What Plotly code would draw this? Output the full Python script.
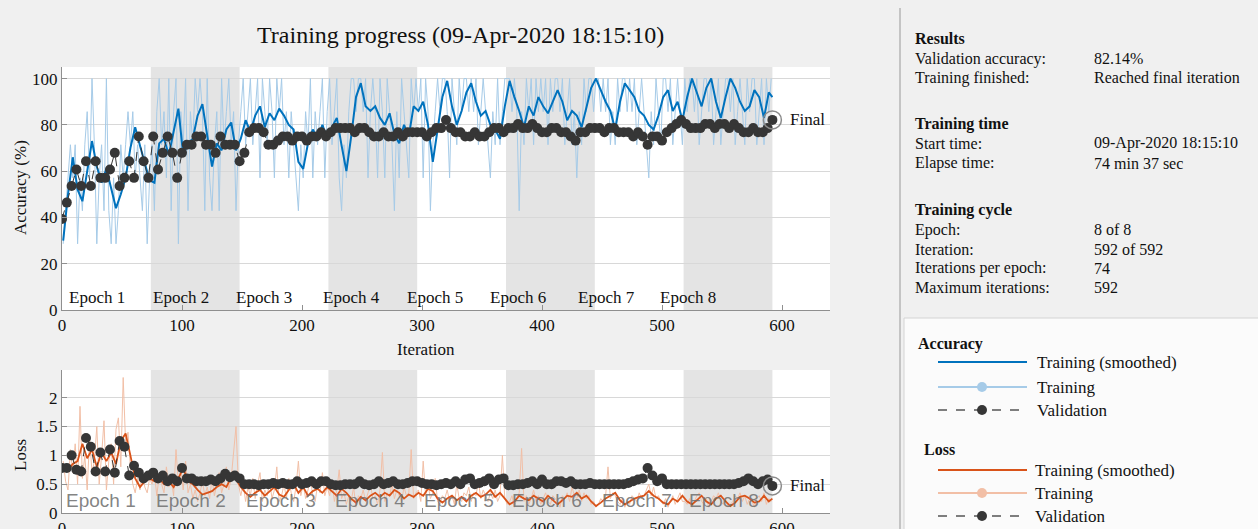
import plotly.graph_objects as go

# ---------------- data ----------------
ITERS_PER_EPOCH = 74
N_EPOCHS = 8
MAX_ITER = 592

# smoothed training accuracy, sampled every 4 iterations (1,5,...,589) + 592
ACC_SMOOTH = [
    30, 50, 66, 52, 47, 60, 73, 62, 55, 61, 52, 44, 50, 57, 70, 79, 71, 63, 56,
    55, 72, 74, 67, 77, 87, 67, 72, 74, 84, 89, 76, 62, 72, 69, 78, 81, 69,
    74, 82, 77, 84, 88, 79, 85, 82, 87, 84, 80, 78, 64, 61, 72, 78, 74, 80, 74,
    79, 83, 71, 60, 75, 92, 98, 88, 86, 88, 83, 80, 85, 76, 72, 80, 75, 88,
    86, 90, 80, 64, 78, 92, 99, 88, 80, 86, 94, 98, 90, 84, 86, 80, 78, 74, 88,
    99, 92, 86, 79, 88, 84, 92, 88, 85, 90, 95, 90, 82, 86, 84, 79, 88, 96,
    100, 95, 90, 86, 78, 90, 98, 95, 92, 86, 84, 80, 78, 84, 92, 95, 86, 90, 82,
    92, 100, 94, 88, 96, 100, 90, 83, 92, 100, 96, 90, 86, 88, 95, 92, 83, 94, 92,
]

# raw training accuracy, every 2 iterations (1,3,...,591)
ACC_RAW = [
    28.6, 42.9, 57.1, 71.4, 57.1, 71.4, 28.6, 57.1, 42.9, 71.4,
    85.7, 57.1, 100, 71.4, 28.6, 57.1, 71.4, 42.9, 100, 42.9,
    28.6, 57.1, 28.6, 42.9, 71.4, 57.1, 71.4, 85.7, 71.4, 85.7,
    57.1, 71.4, 57.1, 42.9, 71.4, 28.6, 57.1,
    71.4, 42.9, 85.7, 100, 71.4, 85.7, 57.1, 100, 42.9, 85.7,
    100, 28.6, 85.7, 71.4, 100, 42.9, 85.7, 71.4, 100, 85.7,
    100, 85.7, 42.9, 100, 57.1, 42.9, 71.4, 85.7, 42.9, 100,
    71.4, 85.7, 100, 71.4, 85.7, 42.9, 71.4,
    85.7, 100, 71.4, 85.7, 100, 71.4, 85.7, 100, 57.1, 100,
    85.7, 71.4, 100, 85.7, 57.1, 100, 85.7, 100, 71.4, 85.7,
    57.1, 85.7, 71.4, 57.1, 42.9, 71.4, 57.1, 85.7, 71.4, 100,
    57.1, 85.7, 71.4, 85.7, 100, 57.1, 85.7,
    100, 71.4, 85.7, 100, 57.1, 42.9, 71.4, 57.1, 85.7, 100,
    100, 85.7, 100, 100, 85.7, 100, 57.1, 85.7, 100, 85.7,
    57.1, 100, 85.7, 57.1, 100, 85.7, 71.4, 42.9, 85.7, 57.1,
    100, 85.7, 71.4, 57.1, 100, 85.7, 100,
    85.7, 100, 57.1, 100, 85.7, 42.9, 71.4, 85.7, 100, 85.7,
    100, 100, 85.7, 57.1, 100, 85.7, 71.4, 100, 85.7, 100,
    100, 85.7, 100, 85.7, 100, 71.4, 85.7, 100, 85.7, 71.4,
    57.1, 85.7, 71.4, 100, 71.4, 85.7, 100,
    100, 100, 85.7, 100, 85.7, 42.9, 85.7, 71.4, 100, 85.7,
    100, 71.4, 100, 85.7, 100, 85.7, 100, 71.4, 100, 85.7,
    100, 100, 85.7, 100, 71.4, 85.7, 100, 71.4, 85.7, 57.1,
    85.7, 71.4, 100, 85.7, 100, 100, 85.7,
    100, 100, 85.7, 100, 85.7, 100, 71.4, 85.7, 71.4, 100,
    85.7, 100, 100, 85.7, 100, 85.7, 100, 71.4, 85.7, 100,
    85.7, 71.4, 57.1, 85.7, 71.4, 100, 85.7, 71.4, 100, 100,
    85.7, 100, 71.4, 85.7, 100, 85.7, 71.4,
    100, 85.7, 100, 100, 85.7, 100, 71.4, 85.7, 100, 100,
    85.7, 100, 71.4, 85.7, 100, 71.4, 85.7, 100, 100, 85.7,
    100, 71.4, 85.7, 100, 85.7, 71.4, 100, 85.7, 100, 100,
    71.4, 85.7, 100, 71.4, 100, 85.7, 100,
]

# validation accuracy, every 4 iterations (0,4,...,592)
ACC_VAL = [
    39.3, 46.4, 53.6, 60.7, 53.6, 64.3, 53.6, 64.3, 57.1, 57.1, 60.7, 67.9, 53.6, 57.1, 64.3, 57.1, 75, 64.3, 57.1,
    75, 60.7, 67.9, 75, 67.9, 57.1, 67.9, 71.4, 71.4, 75, 75, 71.4, 71.4, 67.9, 75, 71.4, 71.4, 71.4,
    64.3, 67.9, 76.8, 78.6, 78.6, 76.8, 71.4, 71.4, 73.2, 75, 75, 73.2, 75, 75, 73.2, 75, 75, 76.8, 75,
    76.8, 78.6, 78.6, 78.6, 78.6, 76.8, 78.6, 78.6, 76.8, 75, 75, 76.8, 75, 75, 76.8, 75, 76.8, 76.8,
    76.8, 76.8, 75, 76.8, 78.6, 78.6, 82.1, 78.6, 76.8, 76.8, 75, 75, 76.8, 75, 75, 76.8, 78.6, 78.6, 76.8,
    78.6, 78.6, 80.4, 78.6, 78.6, 80.4, 78.6, 76.8, 76.8, 78.6, 78.6, 76.8, 76.8, 75, 73.2, 76.8, 76.8, 78.6,
    78.6, 78.6, 76.8, 78.6, 78.6, 76.8, 76.8, 76.8, 75, 76.8, 75, 71.4, 75, 75, 73.2, 76.8, 78.6, 80.4, 82.1,
    80.4, 78.6, 78.6, 78.6, 80.4, 80.4, 78.6, 80.4, 80.4, 78.6, 80.4, 78.6, 76.8, 76.8, 78.6, 76.8, 76.8, 78.6, 82.14,
]

LOSS_SMOOTH = [
    0.8, 0.75, 0.85, 0.9, 1.2, 0.95, 1.1, 0.8, 1.05, 0.9, 1.05, 0.85, 1.25, 1.38, 1.0, 0.6, 0.45, 0.55, 0.6,
    0.55, 0.6, 0.5, 0.55, 0.45, 0.6, 0.78, 0.55, 0.5, 0.4, 0.32, 0.35, 0.38, 0.45, 0.5, 0.45, 0.62, 0.58,
    0.45, 0.35, 0.28, 0.35, 0.4, 0.3, 0.38, 0.45, 0.32, 0.28, 0.4, 0.5, 0.35, 0.45, 0.3, 0.38, 0.42, 0.35, 0.45,
    0.38, 0.3, 0.42, 0.35, 0.25, 0.18, 0.28, 0.22, 0.3, 0.35, 0.28, 0.35, 0.3, 0.4, 0.35, 0.25, 0.32, 0.28,
    0.35, 0.3, 0.42, 0.38, 0.25, 0.18, 0.25, 0.3, 0.22, 0.28, 0.2, 0.3, 0.35, 0.28, 0.32, 0.4, 0.28, 0.35, 0.25,
    0.15, 0.2, 0.3, 0.25, 0.22, 0.3, 0.25, 0.2, 0.3, 0.22, 0.15, 0.22, 0.3, 0.28, 0.35, 0.25, 0.3, 0.2,
    0.12, 0.18, 0.25, 0.3, 0.35, 0.22, 0.15, 0.2, 0.25, 0.28, 0.3, 0.38, 0.3, 0.25, 0.18, 0.15, 0.25, 0.2, 0.3,
    0.2, 0.15, 0.22, 0.3, 0.2, 0.15, 0.25, 0.3, 0.2, 0.12, 0.18, 0.28, 0.3, 0.25, 0.18, 0.2, 0.3, 0.2, 0.25,
]

LOSS_RAW = [
    0.9, 0.55, 0.4, 1.1, 0.7, 1.2, 0.5, 1.85, 0.6, 1.0,
    0.4, 1.3, 0.7, 0.9, 1.5, 0.5, 1.0, 1.6, 0.4, 0.9,
    1.2, 0.5, 1.45, 1.65, 0.8, 2.35, 1.2, 1.4, 0.8, 0.5,
    0.35, 0.6, 0.4, 0.7, 0.45, 0.35, 0.6,
    0.5, 0.7, 0.3, 0.65, 0.5, 0.35, 0.8, 0.45, 0.6, 0.3,
    1.1, 0.5, 0.75, 0.4, 0.9, 0.35, 0.5, 0.25, 0.4, 0.2,
    0.35, 0.55, 0.3, 0.45, 0.25, 0.6, 0.3, 0.5, 0.7, 0.35,
    0.5, 0.8, 0.4, 0.6, 1.0, 1.5, 0.5,
    0.3, 0.5, 0.2, 0.45, 0.3, 0.6, 0.25, 0.5, 0.7, 0.2,
    0.4, 0.3, 0.55, 0.25, 0.4, 0.8, 0.2, 0.3, 0.5, 0.25,
    0.6, 0.35, 0.2, 0.45, 0.9, 0.3, 0.5, 0.25, 0.4, 0.6,
    0.3, 0.2, 0.5, 0.35, 0.7, 0.3, 0.45,
    0.3, 0.55, 0.2, 0.4, 0.75, 0.25, 0.35, 0.15, 0.3, 0.2,
    0.45, 0.1, 0.3, 0.25, 0.4, 0.2, 0.35, 0.5, 0.25, 0.3,
    0.15, 0.4, 1.05, 0.2, 0.35, 0.3, 0.5, 0.25, 0.4, 0.3,
    0.2, 0.45, 0.3, 0.35, 1.1, 0.25, 0.35,
    0.4, 0.2, 0.9, 0.3, 0.5, 0.25, 0.35, 0.6, 0.2, 0.15,
    0.3, 0.25, 0.4, 0.2, 0.3, 0.15, 0.5, 0.25, 0.2, 0.35,
    0.3, 0.45, 0.2, 0.35, 0.3, 0.55, 0.25, 0.4, 0.3, 0.2,
    0.35, 0.25, 0.4, 0.2, 0.3, 1.0, 0.25,
    0.15, 0.2, 0.3, 0.1, 0.25, 0.35, 1.12, 0.2, 0.3, 0.15,
    0.25, 0.4, 0.2, 0.3, 0.15, 0.25, 0.35, 0.2, 0.15, 0.3,
    0.25, 0.2, 0.1, 0.3, 0.25, 0.35, 0.2, 0.45, 0.3, 0.25,
    0.4, 0.2, 0.35, 0.25, 0.3, 0.15, 0.2,
    0.1, 0.15, 0.25, 0.2, 0.3, 0.8, 0.25, 0.35, 0.3, 0.2,
    0.15, 0.25, 0.1, 0.2, 0.15, 0.3, 0.25, 0.2, 0.35, 0.25,
    0.3, 0.4, 0.5, 0.3, 0.45, 0.25, 0.3, 0.2, 0.15, 0.25,
    0.1, 0.2, 0.3, 0.15, 0.25, 0.35, 0.2,
    0.2, 0.15, 0.25, 0.1, 0.2, 0.3, 0.35, 0.2, 0.15, 0.25,
    0.1, 0.2, 0.3, 0.25, 0.35, 0.2, 0.15, 0.25, 0.1, 0.15,
    0.2, 0.3, 0.25, 0.35, 0.2, 0.3, 0.15, 0.25, 0.2, 0.1,
    0.25, 0.3, 0.2, 0.35, 0.15, 0.25, 0.2,
]

LOSS_VAL = [
    0.78, 0.78, 1.0, 0.75, 0.72, 1.3, 1.15, 0.72, 1.05, 0.72, 1.1, 0.7, 1.25, 1.15, 0.65, 0.82, 0.7, 0.6, 0.65,
    0.7, 0.6, 0.65, 0.55, 0.6, 0.55, 0.78, 0.6, 0.6, 0.55, 0.55, 0.55, 0.58, 0.55, 0.6, 0.68, 0.62, 0.65,
    0.6, 0.5, 0.5, 0.5, 0.48, 0.5, 0.5, 0.52, 0.5, 0.52, 0.5, 0.5, 0.55, 0.5, 0.52, 0.55, 0.5, 0.55, 0.55,
    0.5, 0.48, 0.48, 0.5, 0.5, 0.5, 0.55, 0.5, 0.48, 0.5, 0.55, 0.5, 0.52, 0.55, 0.5, 0.5, 0.52, 0.55,
    0.55, 0.52, 0.5, 0.5, 0.48, 0.5, 0.52, 0.5, 0.55, 0.5, 0.58, 0.6, 0.5, 0.52, 0.55, 0.6, 0.5, 0.58, 0.6,
    0.48, 0.48, 0.5, 0.5, 0.52, 0.55, 0.5, 0.58, 0.5, 0.5, 0.55, 0.55, 0.52, 0.55, 0.5, 0.5, 0.5, 0.52,
    0.5, 0.5, 0.5, 0.5, 0.5, 0.5, 0.5, 0.52, 0.55, 0.58, 0.6, 0.78, 0.65, 0.55, 0.6, 0.5, 0.5, 0.5, 0.5,
    0.5, 0.5, 0.5, 0.5, 0.5, 0.5, 0.5, 0.5, 0.5, 0.5, 0.5, 0.52, 0.55, 0.6, 0.55, 0.5, 0.55, 0.58, 0.47,
]

X_TICKS = [0, 100, 200, 300, 400, 500, 600]
ACC_TICKS = [0, 20, 40, 60, 80, 100]
LOSS_TICKS = [0, 0.5, 1, 1.5, 2]
LOSS_TICK_TEXT = ["0", "0.5", "1", "1.5", "2"]
EPOCH_NAMES = ["Epoch %d" % (i + 1) for i in range(N_EPOCHS)]
EPOCH_LABEL_X_ACC = [4, 74, 143, 216, 286, 355, 428, 497]
EPOCH_LABEL_X_LOSS = [2, 77, 152, 226, 300, 373, 448, 521]

RESULTS = [
    ("Results", None, True),
    ("Validation accuracy:", "82.14%", False),
    ("Training finished:", "Reached final iteration", False),
    ("Training time", None, True),
    ("Start time:", "09-Apr-2020 18:15:10", False),
    ("Elapse time:", "74 min 37 sec", False),
    ("Training cycle", None, True),
    ("Epoch:", "8 of 8", False),
    ("Iteration:", "592 of 592", False),
    ("Iterations per epoch:", "74", False),
    ("Maximum iterations:", "592", False),
]
RESULTS_Y = [38, 59, 78, 124, 143, 163, 210, 230, 249, 268, 287]

# x positions
smooth_x = list(range(1, 590, 4)) + [MAX_ITER]
raw_x = list(range(1, MAX_ITER, 2))
val_x = list(range(0, MAX_ITER + 1, 4))
assert len(ACC_SMOOTH) == len(smooth_x), len(ACC_SMOOTH)
assert len(LOSS_SMOOTH) == len(smooth_x), len(LOSS_SMOOTH)
assert len(ACC_RAW) == len(raw_x), len(ACC_RAW)
assert len(LOSS_RAW) == len(raw_x), len(LOSS_RAW)
assert len(ACC_VAL) == len(val_x), len(ACC_VAL)
assert len(LOSS_VAL) == len(val_x), len(LOSS_VAL)

# ---------------- styling ----------------
W, H = 1258, 529
SERIF = "Liberation Serif"
SANS = "Liberation Sans"
BLUE = "#0072BD"
LBLUE = "#a6cbe8"
ORANGE = "#D95319"
LORANGE = "#f2bfa6"
DARK = "#363636"
SHADE = "#e4e4e4"


def px(x):
    return x / W


def py(y):
    return 1 - y / H


fig = go.Figure()

# accuracy traces
fig.add_trace(go.Scatter(x=raw_x, y=ACC_RAW, mode="lines", line=dict(color=LBLUE, width=1),
                         xaxis="x", yaxis="y", hoverinfo="skip"))
fig.add_trace(go.Scatter(x=smooth_x, y=ACC_SMOOTH, mode="lines", line=dict(color=BLUE, width=2),
                         xaxis="x", yaxis="y"))
fig.add_trace(go.Scatter(x=val_x, y=ACC_VAL, mode="lines+markers",
                         line=dict(color=DARK, width=1, dash="dash"),
                         marker=dict(color=DARK, size=10), xaxis="x", yaxis="y"))
fig.add_trace(go.Scatter(x=[val_x[-1]], y=[ACC_VAL[-1]], mode="markers",
                         marker=dict(size=18, color="rgba(0,0,0,0)", line=dict(color="#8a8a8a", width=1.5)),
                         xaxis="x", yaxis="y"))

# loss traces
fig.add_trace(go.Scatter(x=raw_x, y=LOSS_RAW, mode="lines", line=dict(color=LORANGE, width=1),
                         xaxis="x2", yaxis="y2", hoverinfo="skip"))
fig.add_trace(go.Scatter(x=smooth_x, y=LOSS_SMOOTH, mode="lines", line=dict(color=ORANGE, width=1.8),
                         xaxis="x2", yaxis="y2"))
fig.add_trace(go.Scatter(x=val_x, y=LOSS_VAL, mode="lines+markers",
                         line=dict(color=DARK, width=1, dash="dash"),
                         marker=dict(color=DARK, size=10), xaxis="x2", yaxis="y2"))
fig.add_trace(go.Scatter(x=[val_x[-1]], y=[LOSS_VAL[-1]], mode="markers",
                         marker=dict(size=18, color="rgba(0,0,0,0)", line=dict(color="#8a8a8a", width=1.5)),
                         xaxis="x2", yaxis="y2"))

shapes = []
for e in range(1, N_EPOCHS, 2):
    for xr, yr in (("x", "y domain"), ("x2", "y2 domain")):
        shapes.append(dict(type="rect", xref=xr, yref=yr, x0=e * ITERS_PER_EPOCH,
                           x1=(e + 1) * ITERS_PER_EPOCH, y0=0, y1=1, fillcolor=SHADE,
                           line=dict(width=0), layer="below"))

annotations = []


def note(text, x, y, size=17, family=SERIF, color="#111", xanchor="center", xref="paper", yref="paper", **kw):
    annotations.append(dict(text=text, x=x, y=y, xref=xref, yref=yref, xanchor=xanchor, yanchor="middle",
                            showarrow=False, font=dict(family=family, size=size, color=color), **kw))


# title and axis titles
note("Training progress (09-Apr-2020 18:15:10)", px(460), py(35), size=24)
note("Accuracy (%)", px(20), py(188), textangle=-90)
note("Iteration", px(426), py(349))
note("Loss", px(20), py(455), textangle=-90)

for name, xa in zip(EPOCH_NAMES, EPOCH_LABEL_X_ACC):
    note(name, xa, 5.6, xanchor="left", xref="x", yref="y")
for name, xl in zip(EPOCH_NAMES, EPOCH_LABEL_X_LOSS):
    note(name, xl, 0.22, size=19, family=SANS, color="rgba(110,110,110,0.85)", xanchor="left",
         xref="x2", yref="y2")

note("Final", val_x[-1], ACC_VAL[-1], xanchor="left", xref="x", yref="y", xshift=16)
note("Final", val_x[-1], LOSS_VAL[-1], xanchor="left", xref="x2", yref="y2", xshift=16)

# right panel
shapes.append(dict(type="line", xref="paper", yref="paper", x0=px(900), x1=px(900), y0=py(8), y1=py(529),
                   line=dict(color="#c4c4c4", width=2)))
shapes.append(dict(type="rect", xref="paper", yref="paper", x0=px(904), x1=px(1262), y0=py(318), y1=py(532),
                   fillcolor="#fbfbfb", line=dict(color="#d4d4d4", width=1)))
for (lab, val, bold), yy in zip(RESULTS, RESULTS_Y):
    note(("<b>%s</b>" % lab) if bold else lab, px(913), py(yy), size=16, xanchor="left")
    if val:
        note(val, px(1092), py(yy), size=16, xanchor="left")

# legend (drawn by hand)
LEG = [
    ("Accuracy", 916, 344, [(362, BLUE, "solid", None), (387, LBLUE, "solid", LBLUE), (410, "#555", "dash", DARK)], 1035),
    ("Loss", 922, 449, [(470, ORANGE, "solid", None), (493, LORANGE, "solid", LORANGE), (516, "#555", "dash", DARK)], 1033),
]
LEG_TEXT = ["Training (smoothed)", "Training", "Validation"]
for head, hx, hy, rows, tx in LEG:
    note("<b>%s</b>" % head, px(hx), py(hy), size=16, xanchor="left")
    for (ly, col, dash, mcol), t in zip(rows, LEG_TEXT):
        shapes.append(dict(type="line", xref="paper", yref="paper", x0=px(938), x1=px(1027), y0=py(ly), y1=py(ly),
                           line=dict(color=col, width=2 if dash == "solid" else 1.5, dash=dash)))
        if mcol:
            shapes.append(dict(type="circle", xref="paper", yref="paper", x0=px(977), x1=px(987),
                               y0=py(ly + 5), y1=py(ly - 5), fillcolor=mcol, line=dict(width=0)))
        note(t, px(tx), py(ly), xanchor="left")

axis_common = dict(showgrid=False, zeroline=False, showline=True, linecolor="#8f8f8f", linewidth=1,
                   ticks="inside", ticklen=5, tickcolor="#8f8f8f", automargin=False,
                   tickfont=dict(family=SERIF, size=17, color="#111"))

fig.update_layout(
    width=W, height=H, margin=dict(l=0, r=0, t=0, b=0, pad=0, autoexpand=False),
    paper_bgcolor="#f0f0f0", plot_bgcolor="white", showlegend=False,
    shapes=shapes, annotations=annotations,
    xaxis=dict(domain=[px(62), px(830)], range=[0, 640], tickvals=X_TICKS, anchor="y", **axis_common),
    yaxis=dict(domain=[py(310), py(67)], range=[0, 105], tickvals=ACC_TICKS, anchor="x",
               **{**axis_common, "showgrid": True, "gridcolor": "#d8d8d8"}),
    xaxis2=dict(domain=[px(62), px(830)], range=[0, 640], tickvals=X_TICKS, anchor="y2", **axis_common),
    yaxis2=dict(domain=[py(513), py(370)], range=[0, 2.48], tickvals=LOSS_TICKS, ticktext=LOSS_TICK_TEXT,
                anchor="x2", **{**axis_common, "showgrid": True, "gridcolor": "#d8d8d8"}),
)

fig.write_html("out.html", config={"displayModeBar": False},
               post_script="document.body.style.margin='0';")
